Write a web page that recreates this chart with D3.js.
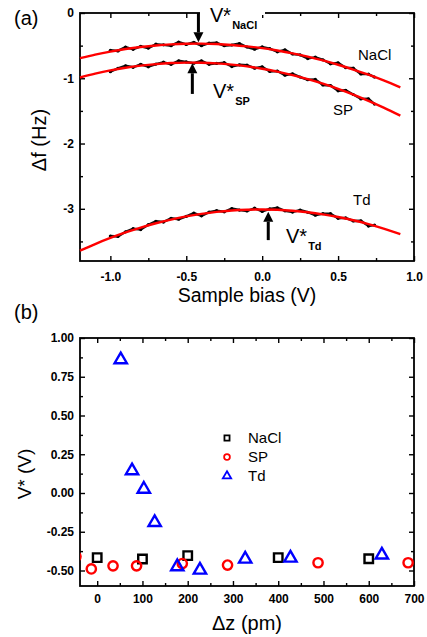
<!DOCTYPE html>
<html><head><meta charset="utf-8">
<script src="https://cdn.jsdelivr.net/npm/d3@7"></script>
<style>body{margin:0;background:#fff}svg{display:block;font-family:"Liberation Sans",Arial,sans-serif}</style>
</head><body><svg id="c" width="427" height="637"></svg>
<script>
// ---------- Panel (a) data ----------
const biasFit = [-1.2,-1.1,-1.0,-0.9,-0.8,-0.7,-0.6,-0.5,-0.4,-0.3,-0.2,-0.1,0,0.1,0.2,0.3,0.4,0.5,0.6,0.7,0.8,0.91];
const naclFit = [-0.691,-0.637,-0.591,-0.552,-0.521,-0.497,-0.481,-0.472,-0.470,-0.476,-0.490,-0.511,-0.539,-0.575,-0.618,-0.669,-0.727,-0.793,-0.866,-0.946,-1.034,-1.140];
const spFit   = [-0.988,-0.930,-0.880,-0.839,-0.807,-0.783,-0.767,-0.760,-0.762,-0.772,-0.791,-0.818,-0.854,-0.899,-0.952,-1.013,-1.083,-1.162,-1.249,-1.345,-1.449,-1.573];
const tdFit   = [-3.642,-3.540,-3.447,-3.363,-3.288,-3.222,-3.165,-3.117,-3.078,-3.047,-3.026,-3.014,-3.010,-3.015,-3.030,-3.053,-3.085,-3.126,-3.176,-3.235,-3.303,-3.387];

const biasMeas = [-1.00,-0.95,-0.90,-0.85,-0.80,-0.75,-0.70,-0.65,-0.60,-0.55,-0.50,-0.45,-0.40,-0.35,-0.30,-0.25,-0.20,-0.15,-0.10,-0.05,0.00,0.05,0.10,0.15,0.20,0.25,0.30,0.35,0.40,0.45,0.50,0.55,0.60,0.65,0.70,0.74];
const naclMeas = [-0.571,-0.581,-0.522,-0.556,-0.511,-0.538,-0.477,-0.488,-0.501,-0.445,-0.482,-0.450,-0.500,-0.462,-0.456,-0.502,-0.490,-0.469,-0.521,-0.554,-0.519,-0.546,-0.595,-0.565,-0.628,-0.642,-0.699,-0.677,-0.717,-0.779,-0.763,-0.838,-0.846,-0.935,-0.936,-0.982];
const spMeas   = [-0.900,-0.848,-0.809,-0.832,-0.787,-0.824,-0.783,-0.754,-0.787,-0.733,-0.750,-0.770,-0.732,-0.786,-0.772,-0.761,-0.821,-0.794,-0.798,-0.845,-0.824,-0.895,-0.889,-0.954,-0.932,-0.981,-1.023,-1.017,-1.103,-1.111,-1.192,-1.184,-1.249,-1.316,-1.315,-1.396];
const tdMeas   = [-3.417,-3.424,-3.353,-3.305,-3.318,-3.244,-3.192,-3.203,-3.145,-3.160,-3.117,-3.066,-3.108,-3.052,-3.028,-3.046,-2.996,-3.019,-3.034,-2.991,-3.040,-3.002,-2.985,-3.031,-3.050,-3.020,-3.053,-3.098,-3.075,-3.074,-3.146,-3.140,-3.186,-3.184,-3.265,-3.250];

const seriesA = ["NaCl","SP","Td"];
const vstarBias = [-0.42,-0.46,0.04];      // arrow positions (V)
const arrowTail = [0.0,-1.24,-3.48];       // Hz
const arrowTip  = [-0.45,-0.77,-3.045];    // Hz

const xTicksA = [-1.0,-0.5,0.0,0.5,1.0];
const xMinorA = [-0.75,-0.25,0.25,0.75];
const yTicksA = [0,-1,-2,-3];
const yMinorA = [-0.5,-1.5,-2.5,-3.5];

// ---------- Panel (b) data ----------
const seriesB = ["NaCl","SP","Td"];
const naclDz = [0,100,200,400,600];
const naclV  = [-0.417,-0.426,-0.404,-0.417,-0.424];
const spDz   = [-47,-13,35,87,188,288,488,687];
const spV    = [-0.41,-0.49,-0.47,-0.47,-0.455,-0.465,-0.45,-0.45];
const tdDz   = [52,77,103,127,177,227,327,427,629];
const tdV    = [0.86,0.144,0.025,-0.19,-0.475,-0.497,-0.426,-0.42,-0.40];

const xTicksB = [0,100,200,300,400,500,600,700];
const xMinorB = [50,150,250,350,450,550,650];
const yTicksB = [1.00,0.75,0.50,0.25,0.00,-0.25,-0.50];
const yMinorB = [0.875,0.625,0.375,0.125,-0.125,-0.375];

// ---------- drawing ----------
const svg = d3.select("#c");
const A = {l:80, r:414, t:13, b:261};
const B = {l:80, r:414, t:338, b:586};

const xA = d3.scaleLinear([-1.2,1.0],[A.l,A.r]);
const yA = d3.scaleLinear([-3.8,0],[A.b,A.t]);
const xB = d3.scaleLinear([-38,700],[B.l,B.r]);
const yB = d3.scaleLinear([-0.6,1.0],[B.b,B.t]);

function frameAxes(P, xs, ys, xt, xm, yt, ym, xfmt, yfmt, xpad, ypad, fs){
  const g = svg.append("g");
  g.append("g").attr("transform",`translate(0,${P.b})`)
    .call(d3.axisBottom(xs).tickValues(xt).tickSize(-5).tickPadding(xpad).tickFormat(xfmt));
  g.append("g").attr("transform",`translate(0,${P.b})`)
    .call(d3.axisBottom(xs).tickValues(xm).tickSize(-3).tickFormat(""));
  g.append("g").attr("transform",`translate(0,${P.t})`)
    .call(d3.axisTop(xs).tickValues(xt).tickSize(-5).tickFormat(""));
  g.append("g").attr("transform",`translate(0,${P.t})`)
    .call(d3.axisTop(xs).tickValues(xm).tickSize(-3).tickFormat(""));
  g.append("g").attr("transform",`translate(${P.l},0)`)
    .call(d3.axisLeft(ys).tickValues(yt).tickSize(-5).tickPadding(ypad).tickFormat(yfmt));
  g.append("g").attr("transform",`translate(${P.l},0)`)
    .call(d3.axisLeft(ys).tickValues(ym).tickSize(-3).tickFormat(""));
  g.append("g").attr("transform",`translate(${P.r},0)`)
    .call(d3.axisRight(ys).tickValues(yt).tickSize(-5).tickFormat(""));
  g.append("g").attr("transform",`translate(${P.r},0)`)
    .call(d3.axisRight(ys).tickValues(ym).tickSize(-3).tickFormat(""));
  g.selectAll(".domain").remove();
  g.selectAll(".tick line").attr("stroke","#000").attr("stroke-width",1.4);
  g.selectAll(".tick text").attr("fill","#000").attr("font-size",fs).attr("font-weight","bold")
    .attr("font-family","Liberation Sans, Arial, sans-serif");
  svg.append("rect").attr("x",P.l).attr("y",P.t).attr("width",P.r-P.l).attr("height",P.b-P.t)
    .attr("fill","none").attr("stroke","#000").attr("stroke-width",1.8);
}

// Panel (a)
frameAxes(A, xA, yA, xTicksA, xMinorA, yTicksA, yMinorA, d=>d.toFixed(1), d=>String(d), 11, 6, 12);

const measSets = [naclMeas, spMeas, tdMeas];
const fitSets = [naclFit, spFit, tdFit];
const lineMeas = d3.line().x((d,i)=>xA(biasMeas[i])).y(d=>yA(d));
const lineFit = d3.line().x((d,i)=>xA(biasFit[i])).y(d=>yA(d)).curve(d3.curveCatmullRom);
const ga = svg.append("g");
measSets.forEach(arr=>{
  ga.append("path").attr("d",lineMeas(arr)).attr("fill","none").attr("stroke","#111").attr("stroke-width",2.4);
  ga.selectAll(null).data(arr).join("circle").attr("cx",(d,i)=>xA(biasMeas[i])).attr("cy",d=>yA(d)).attr("r",1.6).attr("fill","#000");
});
fitSets.forEach(arr=>{
  ga.append("path").attr("d",lineFit(arr)).attr("fill","none").attr("stroke","#ff0000").attr("stroke-width",2.4);
});

// white gap in top frame behind V*NaCl label
svg.append("rect").attr("x",200).attr("y",A.t-2).attr("width",65).attr("height",4).attr("fill","#fff");

// arrows
vstarBias.forEach((v,i)=>{
  const x = xA(v), y0 = yA(arrowTail[i]), y1 = yA(arrowTip[i]);
  const dir = Math.sign(y1-y0), hl = 10, hw = 5;
  svg.append("line").attr("x1",x).attr("x2",x).attr("y1",y0).attr("y2",y1-dir*hl)
    .attr("stroke","#000").attr("stroke-width",3);
  svg.append("path").attr("d",`M${x},${y1}L${x-hw},${y1-dir*hl}L${x+hw},${y1-dir*hl}Z`).attr("fill","#000");
});

// V* labels
const vLabels = [{x:210,y:22,sub:"NaCl"},{x:213,y:98,sub:"SP"},{x:286,y:243,sub:"Td"}];
vLabels.forEach(o=>{
  const t = svg.append("text").attr("x",o.x).attr("y",o.y).attr("font-size",20).attr("fill","#000");
  t.append("tspan").text("V*");
  t.append("tspan").attr("dx",1).attr("dy",7).attr("font-size",11).attr("font-weight","bold").text(o.sub);
});
// series names
const nameLab = [{x:358,y:60},{x:333,y:115},{x:353,y:205}];
seriesA.forEach((s,i)=>{
  svg.append("text").attr("x",nameLab[i].x).attr("y",nameLab[i].y).attr("font-size",15).text(s);
});

svg.append("text").attr("x",14).attr("y",25).attr("font-size",20).text("(a)");
svg.append("text").attr("x",(A.l+A.r)/2).attr("y",302).attr("text-anchor","middle").attr("font-size",19.5).text("Sample bias (V)");
svg.append("text").attr("transform",`translate(46,${(A.t+A.b)/2+3}) rotate(-90)`).attr("text-anchor","middle").attr("font-size",20).text("Δf (Hz)");

// Panel (b)
frameAxes(B, xB, yB, xTicksB, xMinorB, yTicksB, yMinorB, d=>String(d), d=>d.toFixed(2), 8, 6, 12);

svg.append("clipPath").attr("id","clipB").append("rect")
  .attr("x",B.l).attr("y",B.t).attr("width",B.r-B.l).attr("height",B.b-B.t);
const gb = svg.append("g").attr("clip-path","url(#clipB)");
const colors = ["#000","#ff0000","#0000ff"];
const shapes = [d3.symbolSquare, d3.symbolCircle, d3.symbolTriangle];
const sizes = [72, 68, 66];
const dzSets = [naclDz, spDz, tdDz];
const vSets = [naclV, spV, tdV];
seriesB.forEach((s,k)=>{
  gb.selectAll(null).data(vSets[k]).join("path")
    .attr("transform",(d,i)=>`translate(${xB(dzSets[k][i])},${yB(d)})`)
    .attr("d",d3.symbol(shapes[k],sizes[k])())
    .attr("fill","none").attr("stroke",colors[k]).attr("stroke-width",2.4);
});
// legend
const lg = svg.append("g").attr("transform","translate(227,438)");
seriesB.forEach((s,k)=>{
  lg.append("path").attr("transform",`translate(0,${k*19})`).attr("d",d3.symbol(shapes[k],k===2?30:26)())
    .attr("fill","none").attr("stroke",colors[k]).attr("stroke-width",1.8);
  lg.append("text").attr("x",21).attr("y",k*19+5).attr("font-size",15).text(s);
});

svg.append("text").attr("x",14).attr("y",319).attr("font-size",20).text("(b)");
svg.append("text").attr("x",(B.l+B.r)/2).attr("y",630).attr("text-anchor","middle").attr("font-size",20).text("Δz (pm)");
svg.append("text").attr("transform",`translate(31,474) rotate(-90)`).attr("text-anchor","middle").attr("font-size",19).text("V* (V)");
</script></body></html>
